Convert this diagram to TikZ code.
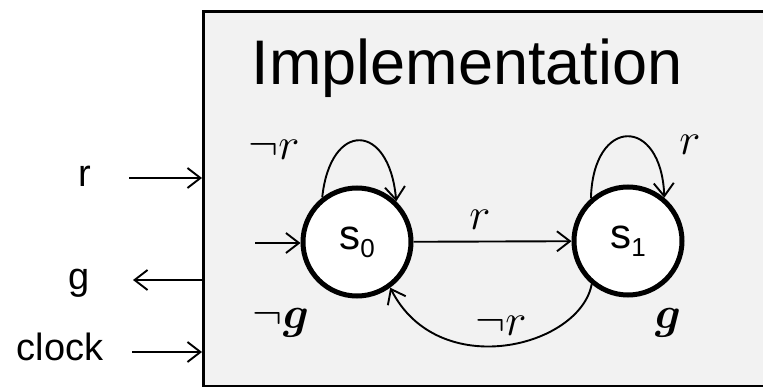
\RequirePackage{fix-cm}
\documentclass[tikz,border=0pt]{standalone}
\usepackage{fontspec}
\usepackage{bm}
\setmainfont{Liberation Sans}
\usetikzlibrary{arrows.meta}
\definecolor{boxbg}{HTML}{F2F2F2}
\begin{document}
\begin{tikzpicture}[x=1pt,y=-1pt,
  conn/.style={line width=1.9pt,-{Straight Barb[length=13pt,width=20pt]}},
  state/.style={circle,draw,line width=5pt,fill=white,inner sep=0pt,minimum size=108pt},
  sig/.style={font=\fontsize{38}{38}\selectfont,anchor=base},
  mlab/.style={font=\fontsize{45}{45}\selectfont,anchor=base,inner sep=0pt}]
\useasboundingbox (0,0) rectangle (763,387);
\begin{scope}
\clip (0,0) rectangle (763,387);
\node[draw,line width=3pt,fill=boxbg,inner sep=0pt,minimum width=580pt,minimum height=375pt,anchor=north west] (box) at (202,10) {};
\end{scope}
\node[font=\fontsize{63}{63}\selectfont,anchor=base] (title) at (467,85) {Implementation};
% signals
\node[sig] (r) at (85,187) {r};
\node[sig] (g) at (79,290) {g};
\node[sig] (clk) at (60,360) {clock};
\coordinate (rin) at (202,178);
\coordinate (gout) at (202,280);
\coordinate (cin) at (202,352);
\coordinate (rst) at (129,178);
\coordinate (gend) at (133,280);
\coordinate (cst) at (132,352);
\draw[conn] (rst) -- (rin);
\draw[conn] (gout) -- (gend);
\draw[conn] (cst) -- (cin);
% states
\node[state] (s0) at (357,242) {\fontsize{42}{42}\selectfont s\raisebox{-8pt}{\fontsize{26}{26}\selectfont 0}};
\node[state] (s1) at (628,241) {\fontsize{42}{42}\selectfont s\raisebox{-8pt}{\fontsize{26}{26}\selectfont 1}};
\coordinate (init) at (255,243);
\draw[conn] (init) -- (s0.west |- init);
\draw[conn] (s0) -- (s1);
\draw[conn] (s0.128) .. controls +(8,-77) and +(-7,-80) .. (s0.46);
\draw[conn] (s1.131) .. controls +(2,-82) and +(-3,-82) .. (s1.50);
\draw[conn] (s1.230) .. controls +(-12,63) and +(48,95) .. (s0.306);
% labels
\node[mlab] (l1) at (274,160) {$\neg r$};
\node[mlab] (l2) at (690,155) {$r$};
\node[mlab] (l3) at (480,230) {$r$};
\node[mlab] (l4) at (501,335) {$\neg r$};
\node[mlab] (l5) at (281,328) {$\neg\bm{g}$};
\node[mlab] (l6) at (668,328) {$\bm{g}$};
\end{tikzpicture}
\end{document}
